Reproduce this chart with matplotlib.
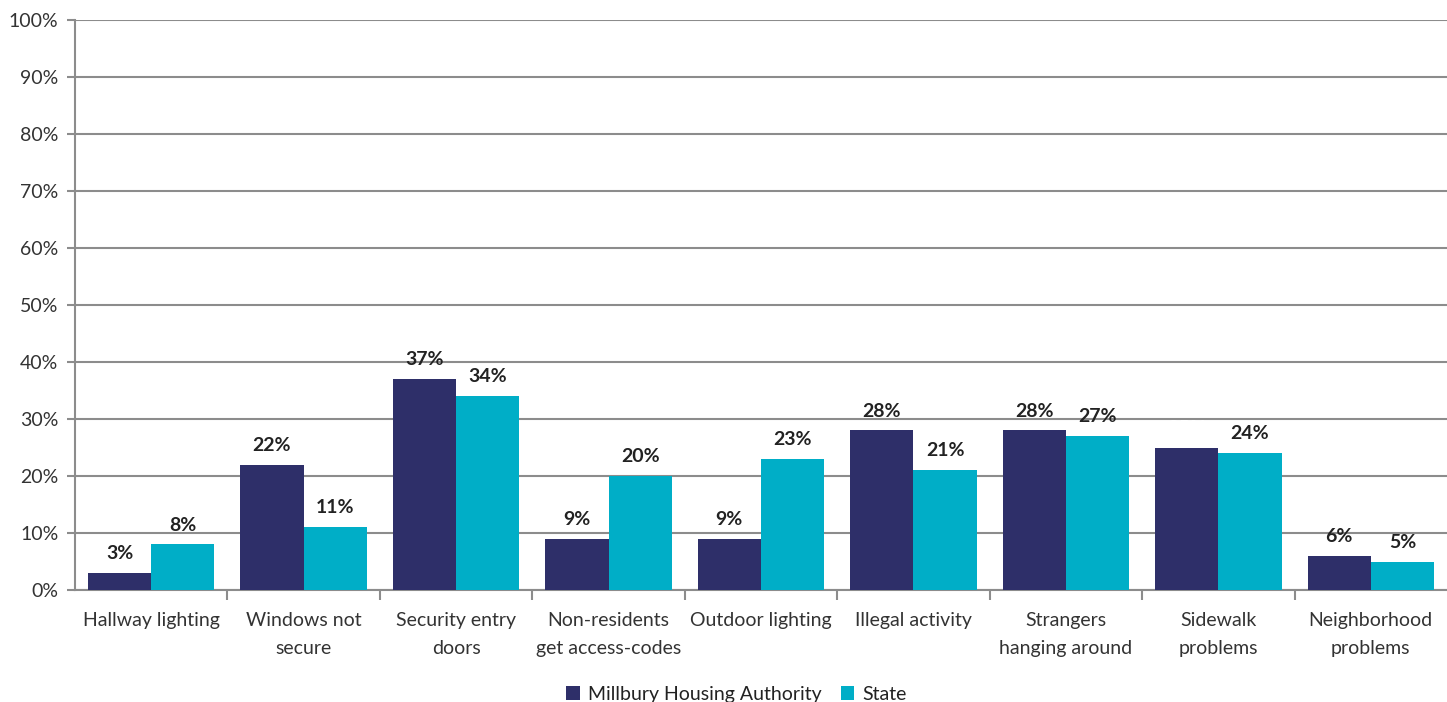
import numpy as np
import matplotlib.pyplot as plt
from matplotlib.ticker import FuncFormatter, FixedLocator

categories = ["Hallway lighting", "Windows not\nsecure", "Security entry\ndoors",
              "Non-residents\nget access-codes", "Outdoor lighting", "Illegal activity",
              "Strangers\nhanging around", "Sidewalk\nproblems", "Neighborhood\nproblems"]
millbury = [3, 22, 37, 9, 9, 28, 28, 25, 6]
state = [8, 11, 34, 20, 23, 21, 27, 24, 5]
series_names = ["Millbury Housing Authority", "State"]

navy = "#2E2F69"
cyan = "#00AEC7"
gray = "#8C8C8C"

plt.rcParams['font.family'] = ['Lato', 'DejaVu Sans']

fig = plt.figure(figsize=(14.47, 7.02), dpi=100)
ax = fig.add_axes([0.0518, 0.1595, 0.9482, 0.812])

x = np.arange(len(categories))
w = 0.415
b1 = ax.bar(x - w / 2, millbury, w, color=navy, label=series_names[0], zorder=3)
b2 = ax.bar(x + w / 2, state, w, color=cyan, label=series_names[1], zorder=3)

for i, v in enumerate(millbury):
    # the sidewalk label is white in the original, hidden against the background
    c = "white" if i == 7 else "#222222"
    ax.text(x[i] - w / 2, v + 1.9, f"{v}%", ha="center", va="bottom",
            fontsize=14, fontweight="bold", color=c, zorder=4)
for i, v in enumerate(state):
    ax.text(x[i] + w / 2, v + 1.9, f"{v}%", ha="center", va="bottom",
            fontsize=14, fontweight="bold", color="#222222", zorder=4)

ax.set_xlim(-0.5, len(categories) - 0.5)
ax.set_ylim(0, 100)
ax.set_yticks(np.arange(0, 101, 10))
ax.yaxis.set_major_formatter(FuncFormatter(lambda v, p: f"{int(v)}%"))
ax.grid(True, axis="y", color=gray, linewidth=1.5, zorder=0)
ax.set_axisbelow(True)

ax.set_xticks(x)
ax.set_xticklabels(categories, fontsize=14, color="#333333", linespacing=1.75)
ax.xaxis.set_minor_locator(FixedLocator(np.arange(0.5, len(categories) - 1, 1)))
ax.tick_params(axis="x", which="major", length=0, pad=16)
ax.tick_params(axis="x", which="minor", length=7, width=1.5, color=gray, direction="out")
ax.tick_params(axis="y", length=6, width=1.5, color=gray, labelsize=14,
               labelcolor="#333333", pad=6)

for s in ["top", "right"]:
    ax.spines[s].set_visible(False)
for s in ["left", "bottom"]:
    ax.spines[s].set_color(gray)
    ax.spines[s].set_linewidth(1.5)

ax.legend(loc="upper center", bbox_to_anchor=(0.482, -0.137), ncol=2, frameon=False,
          fontsize=14, handlelength=0.7, handleheight=0.7, columnspacing=1.0,
          handletextpad=0.4, labelcolor="#222222")

fig.savefig("out.png", dpi=100)
